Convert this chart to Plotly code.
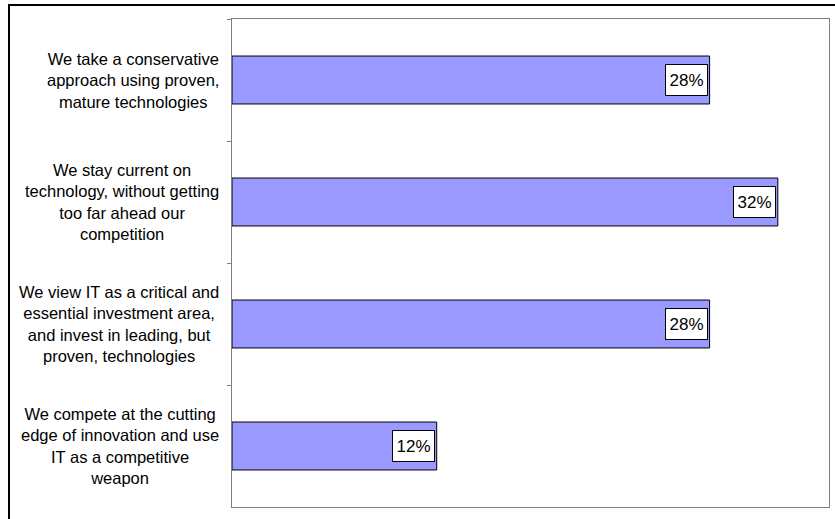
import plotly.graph_objects as go

# Survey responses: approach to technology adoption
categories = [
    "We take a conservative<br>approach using proven,<br>mature technologies",
    "We stay current on<br>technology, without getting<br>too far ahead our<br>competition",
    "We view IT as a critical and<br>essential investment area,<br>and invest in leading, but<br>proven, technologies",
    "We compete at the cutting<br>edge of innovation and use<br>IT as a competitive<br>weapon",
]
shares = [28, 32, 28, 12]
value_labels = [f"{v}%" for v in shares]

FONT = "Arial, Liberation Sans, sans-serif"
AXIS_GRAY = "#808080"

fig = go.Figure(
    go.Bar(
        x=shares,
        y=categories,
        orientation="h",
        marker=dict(color="#9999FF", line=dict(color="#000000", width=1)),
        hoverinfo="skip",
    )
)

annotations = []
# Category labels, centred block to the left of the axis
for cat in categories:
    annotations.append(
        dict(
            x=0, xref="paper", y=cat, yref="y",
            text=cat, showarrow=False,
            xanchor="right", yanchor="middle", align="center",
            xshift=-11,
            font=dict(family=FONT, size=16.5, color="#000000"),
        )
    )
# Boxed value labels inside the end of each bar
for cat, v, lab in zip(categories, shares, value_labels):
    annotations.append(
        dict(
            x=v, xref="x", y=cat, yref="y",
            text=lab, showarrow=False,
            xanchor="right", yanchor="middle", align="center",
            xshift=-2,
            width=39, height=28, borderpad=1,
            bgcolor="#FFFFFF", bordercolor="#000000", borderwidth=1,
            font=dict(family=FONT, size=17, color="#000000"),
        )
    )

fig.update_layout(
    width=835, height=519,
    margin=dict(l=232, r=6, t=19, b=12),
    paper_bgcolor="#FFFFFF",
    plot_bgcolor="#FFFFFF",
    showlegend=False,
    bargap=0.607,
    annotations=annotations,
    shapes=[
        # outer frame (top and left edges visible)
        dict(
            type="rect", xref="paper", yref="paper",
            x0=(9 - 232) / 597, x1=1.2,
            y0=-0.2, y1=(507 - 5) / 488,
            line=dict(color="#000000", width=2),
            fillcolor="rgba(0,0,0,0)", layer="above",
        )
    ],
    xaxis=dict(
        range=[0, 35], showgrid=False, zeroline=False,
        showticklabels=False, ticks="",
        showline=True, mirror=True, linecolor=AXIS_GRAY, linewidth=1,
        fixedrange=True,
    ),
    yaxis=dict(
        type="category", autorange="reversed",
        showgrid=False, zeroline=False, showticklabels=False,
        ticks="outside", tickson="boundaries", ticklen=4,
        tickcolor=AXIS_GRAY, tickwidth=1,
        showline=True, mirror=True, linecolor=AXIS_GRAY, linewidth=1,
        fixedrange=True,
    ),
)

fig.write_html("out.html", config={"displayModeBar": False})
